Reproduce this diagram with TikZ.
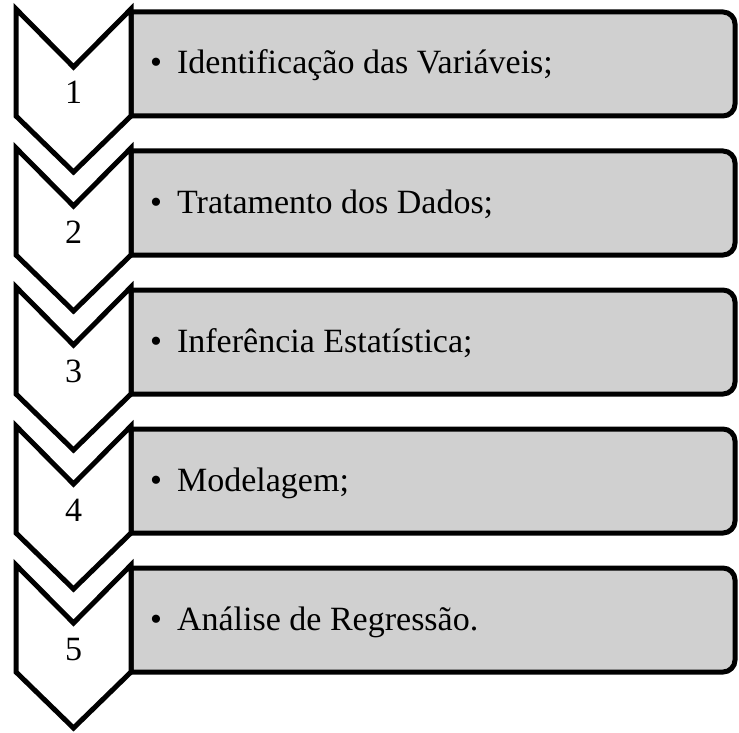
\documentclass[tikz,border=0pt]{standalone}
\usepackage{fontspec}
\setmainfont{Liberation Serif}
\definecolor{cardgray}{RGB}{208,208,208}
\begin{document}
\begin{tikzpicture}[
  x=1pt,y=-1pt,
  chevron/.style={draw,line width=5pt,fill=white,line join=miter},
  card/.style={draw,line width=5pt,fill=cardgray},
  num/.style={anchor=base,inner sep=0pt,font=\fontsize{34}{40}\selectfont},
  item/.style={anchor=base west,inner sep=0pt,font=\fontsize{34}{40}\selectfont}
]
\useasboundingbox (0,0) rectangle (739,733);
% step 1
\draw[card] (131,116) -- (131,12) [rounded corners=12pt] -- (735,12) -- (735,116) [sharp corners] -- cycle;
\draw[chevron] (16,9) -- (73.5,67) -- (131,9) -- (131,116) -- (73.5,172) -- (16,116) -- cycle;
\node[num] (num1) at (73.5,104) {1};
\node[item] (item1) at (150,74) {•\hspace{15pt}Identificação das Variáveis;};
% step 2
\begin{scope}[shift={(0,139)}]
\draw[card] (131,116) -- (131,12) [rounded corners=12pt] -- (735,12) -- (735,116) [sharp corners] -- cycle;
\draw[chevron] (16,9) -- (73.5,67) -- (131,9) -- (131,116) -- (73.5,172) -- (16,116) -- cycle;
\node[num] (num2) at (73.5,104) {2};
\node[item] (item2) at (150,74) {•\hspace{15pt}Tratamento dos Dados;};
\end{scope}
% step 3
\begin{scope}[shift={(0,278)}]
\draw[card] (131,116) -- (131,12) [rounded corners=12pt] -- (735,12) -- (735,116) [sharp corners] -- cycle;
\draw[chevron] (16,9) -- (73.5,67) -- (131,9) -- (131,116) -- (73.5,172) -- (16,116) -- cycle;
\node[num] (num3) at (73.5,104) {3};
\node[item] (item3) at (150,74) {•\hspace{15pt}Inferência Estatística;};
\end{scope}
% step 4
\begin{scope}[shift={(0,417)}]
\draw[card] (131,116) -- (131,12) [rounded corners=12pt] -- (735,12) -- (735,116) [sharp corners] -- cycle;
\draw[chevron] (16,9) -- (73.5,67) -- (131,9) -- (131,116) -- (73.5,172) -- (16,116) -- cycle;
\node[num] (num4) at (73.5,104) {4};
\node[item] (item4) at (150,74) {•\hspace{15pt}Modelagem;};
\end{scope}
% step 5
\begin{scope}[shift={(0,556)}]
\draw[card] (131,116) -- (131,12) [rounded corners=12pt] -- (735,12) -- (735,116) [sharp corners] -- cycle;
\draw[chevron] (16,9) -- (73.5,67) -- (131,9) -- (131,116) -- (73.5,172) -- (16,116) -- cycle;
\node[num] (num5) at (73.5,104) {5};
\node[item] (item5) at (150,74) {•\hspace{15pt}Análise de Regressão.};
\end{scope}
\end{tikzpicture}
\end{document}
